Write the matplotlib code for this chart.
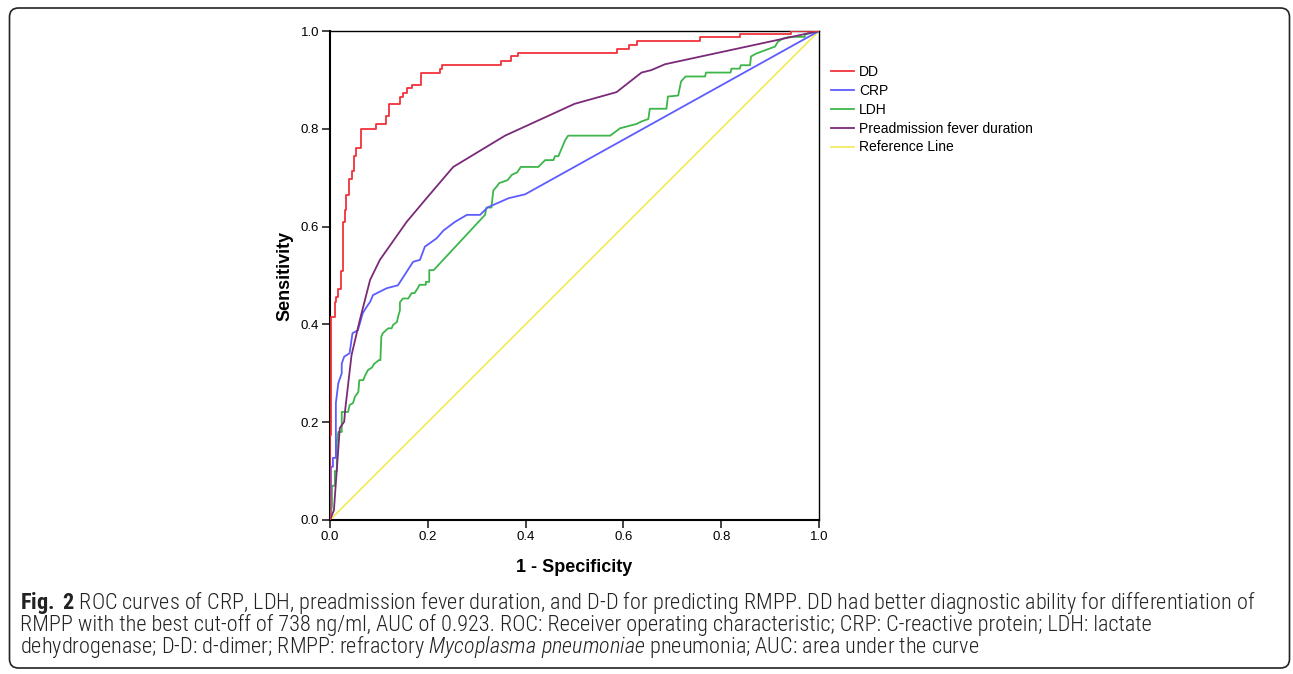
import matplotlib
matplotlib.use('Agg')
import matplotlib.pyplot as plt
from matplotlib import font_manager
from matplotlib.patches import FancyBboxPatch
from matplotlib.transforms import IdentityTransform

# ROC-Punkte
dd_fpr = [0, 0, 0.002, 0.010, 0.013, 0.017, 0.022, 0.026, 0.031, 0.033,
          0.039, 0.045, 0.049, 0.054, 0.063, 0.094, 0.115, 0.121, 0.143, 0.149,
          0.157, 0.167, 0.186, 0.225, 0.230, 0.350, 0.370, 0.384, 0.586, 0.612,
          0.627, 0.757, 0.838, 0.942, 1.0]
dd_tpr = [0, 0.174, 0.415, 0.446, 0.456, 0.472, 0.510, 0.610, 0.634, 0.665,
          0.697, 0.714, 0.744, 0.760, 0.800, 0.810, 0.826, 0.850, 0.865, 0.873,
          0.883, 0.890, 0.915, 0.922, 0.931, 0.938, 0.949, 0.956, 0.963, 0.971,
          0.980, 0.987, 0.994, 1.0, 1.0]

crp_fpr = [0, 0.002, 0.002, 0.006, 0.006, 0.012, 0.012, 0.017, 0.024, 0.024,
           0.029, 0.040, 0.046, 0.057, 0.067, 0.075, 0.082, 0.088, 0.102, 0.116,
           0.139, 0.157, 0.170, 0.184, 0.194, 0.204, 0.218, 0.232, 0.256, 0.280,
           0.307, 0.322, 0.365, 0.399, 1.0]
crp_tpr = [0, 0.070, 0.109, 0.109, 0.127, 0.127, 0.239, 0.280, 0.300, 0.320,
           0.334, 0.341, 0.382, 0.388, 0.423, 0.436, 0.446, 0.460, 0.467, 0.474,
           0.480, 0.508, 0.528, 0.532, 0.559, 0.566, 0.576, 0.592, 0.610, 0.624,
           0.624, 0.639, 0.658, 0.666, 1.0]

ldh_fpr = [0, 0.004, 0.004, 0.010, 0.010, 0.014, 0.014, 0.017, 0.024, 0.024,
           0.037, 0.040, 0.047, 0.051, 0.058, 0.060, 0.068, 0.072, 0.078, 0.086,
           0.090, 0.100, 0.103, 0.105, 0.108, 0.119, 0.126, 0.129, 0.137, 0.139,
           0.143, 0.143, 0.149, 0.160, 0.167, 0.173, 0.180, 0.183, 0.196, 0.196,
           0.203, 0.203, 0.212, 0.317, 0.320, 0.330, 0.334, 0.341, 0.346, 0.363,
           0.372, 0.383, 0.390, 0.426, 0.440, 0.457, 0.460, 0.467, 0.470, 0.481,
           0.487, 0.573, 0.593, 0.627, 0.637, 0.651, 0.654, 0.688, 0.691, 0.712,
           0.718, 0.727, 0.767, 0.769, 0.819, 0.821, 0.838, 0.840, 0.859, 0.861,
           0.872, 0.896, 0.910, 0.916, 0.927, 0.940, 0.971, 0.971, 1.0]
ldh_tpr = [0, 0.030, 0.070, 0.070, 0.100, 0.100, 0.160, 0.180, 0.180, 0.221,
           0.221, 0.235, 0.239, 0.252, 0.262, 0.286, 0.286, 0.296, 0.307, 0.312,
           0.319, 0.327, 0.327, 0.375, 0.382, 0.392, 0.392, 0.399, 0.405, 0.415,
           0.429, 0.445, 0.453, 0.453, 0.464, 0.464, 0.475, 0.481, 0.481, 0.487,
           0.487, 0.511, 0.511, 0.624, 0.639, 0.639, 0.674, 0.682, 0.689, 0.695,
           0.706, 0.711, 0.722, 0.722, 0.736, 0.736, 0.744, 0.744, 0.751, 0.777,
           0.786, 0.786, 0.801, 0.810, 0.815, 0.820, 0.841, 0.841, 0.866, 0.868,
           0.897, 0.907, 0.907, 0.915, 0.915, 0.923, 0.923, 0.930, 0.930, 0.948,
           0.954, 0.963, 0.968, 0.978, 0.985, 0.988, 0.988, 0.993, 1.0]

fever_fpr = [0, 0.008, 0.020, 0.029, 0.031, 0.044, 0.061, 0.082, 0.102, 0.157,
             0.194, 0.252, 0.358, 0.500, 0.586, 0.637, 0.657, 0.685, 1.0]
fever_tpr = [0, 0.020, 0.188, 0.201, 0.225, 0.337, 0.409, 0.491, 0.532, 0.610,
             0.654, 0.722, 0.786, 0.851, 0.875, 0.915, 0.920, 0.932, 1.0]

ref_fpr = [0, 1]
ref_tpr = [0, 1]

series_labels = ['DD', 'CRP', 'LDH', 'Preadmission fever duration', 'Reference Line']
series_colors = ['#f2323c', '#5c5cff', '#3cb64a', '#7a2a78', '#f4ea55']
ticks = [0.0, 0.2, 0.4, 0.6, 0.8, 1.0]

caption_lines = [
    r'$\mathbf{Fig.\ 2}$ ROC curves of CRP, LDH, preadmission fever duration, and D-D for predicting RMPP. '
    r'DD had better diagnostic ability for differentiation of',
    'RMPP with the best cut-off of 738 ng/ml, AUC of 0.923. ROC: Receiver operating characteristic; '
    'CRP: C-reactive protein; LDH: lactate',
    r'dehydrogenase; D-D: d-dimer; RMPP: refractory $\mathit{Mycoplasma\ pneumoniae}$ pneumonia; '
    'AUC: area under the curve',
]

# schmale Schrift für die Bildunterschrift, falls vorhanden
installed = {f.name for f in font_manager.fontManager.ttflist}
condensed = [f.name for f in font_manager.fontManager.ttflist
             if f.stretch in ('condensed', 'semi-condensed') and f.style == 'normal']
cap_font, cap_stretch = 'Liberation Sans', 'normal'
for name in ['Liberation Sans Narrow', 'Roboto Condensed', 'Open Sans Condensed', 'Noto Sans Condensed']:
    if name in installed:
        cap_font = name
        break
else:
    for name in ['Noto Sans', 'Open Sans', 'DejaVu Sans', 'Roboto']:
        if name in condensed:
            cap_font, cap_stretch = name, 'condensed'
            break

suffix = ':condensed' if cap_stretch == 'condensed' else ''
plt.rcParams['font.family'] = ['Liberation Sans', 'DejaVu Sans']
plt.rcParams['mathtext.fontset'] = 'custom'
plt.rcParams['mathtext.rm'] = cap_font + ':light' + suffix
plt.rcParams['mathtext.it'] = cap_font + ':italic:light' + suffix
plt.rcParams['mathtext.bf'] = cap_font + ':bold' + suffix

W, H = 1293, 674
fig = plt.figure(figsize=(W / 100, H / 100), dpi=100)
ax = fig.add_axes([330 / W, (H - 520) / H, 489 / W, 489 / H])

ax.plot(ref_fpr, ref_tpr, color=series_colors[4], lw=1.2, label=series_labels[4], zorder=1)
ax.plot(ldh_fpr, ldh_tpr, color=series_colors[2], lw=1.3, label=series_labels[2], zorder=2)
ax.plot(crp_fpr, crp_tpr, color=series_colors[1], lw=1.3, label=series_labels[1], zorder=3)
ax.plot(fever_fpr, fever_tpr, color=series_colors[3], lw=1.3, label=series_labels[3], zorder=4)
ax.step(dd_fpr, dd_tpr, where='post', color=series_colors[0], lw=1.3, label=series_labels[0], zorder=5)

ax.set_xlim(0, 1)
ax.set_ylim(0, 1)
ax.set_xticks(ticks)
ax.set_yticks(ticks)
ax.set_xticklabels([f'{t:.1f}' for t in ticks])
ax.set_yticklabels([f'{t:.1f}' for t in ticks])
ax.tick_params(direction='out', length=5.8, width=1.1, labelsize=9.5, pad=2, color='#111111')
for side in ['left', 'bottom']:
    ax.spines[side].set_linewidth(1.5)
for side in ['top', 'right']:
    ax.spines[side].set_linewidth(1.0)

ax.set_xlabel('1 - Specificity', fontsize=13, fontweight='bold', va='center')
ax.xaxis.set_label_coords(0.5, (520 - 568) / 489)
ax.set_ylabel('Sensitivity', fontsize=13, fontweight='bold', va='center')
ax.yaxis.set_label_coords((285 - 330) / 489, 0.5)

handles, labels = ax.get_legend_handles_labels()
order = [labels.index(l) for l in series_labels]
ax.legend([handles[i] for i in order], [labels[i] for i in order],
          loc='upper left', bbox_to_anchor=(831 / W, (H - 65) / H), bbox_transform=fig.transFigure,
          frameon=False, fontsize=10, handlelength=1.65, handletextpad=0.35,
          labelspacing=0.35, borderaxespad=0, borderpad=0)

caps = []
for i, line in enumerate(caption_lines):
    caps.append(fig.text(20 / W, (H - 603 - 22 * i) / H, line, fontsize=12.5, family=cap_font,
                         fontstretch=cap_stretch, fontweight='light',
                         ha='left', va='center', color='#222222'))

# erste Zeile soll wie im Original bis ca. x=1270 reichen
renderer = fig.canvas.get_renderer()
width = caps[0].get_window_extent(renderer).width
scale = 1240 / width
for t in caps:
    t.set_fontsize(12.5 * scale)

frame = FancyBboxPatch((9.5, 6), 1280, 660, boxstyle='round,pad=0,rounding_size=9',
                       transform=IdentityTransform(), fill=False, lw=1.2, ec='#222222')
fig.add_artist(frame)

fig.savefig('out.png', dpi=100)
plt.close(fig)
